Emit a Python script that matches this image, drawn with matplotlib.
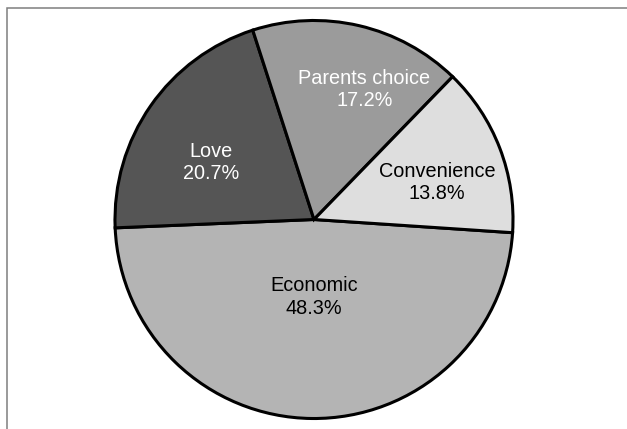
import matplotlib
matplotlib.use("Agg")
import matplotlib.pyplot as plt
from matplotlib.patches import Rectangle
import numpy as np

categories = ["Economic", "Love", "Parents choice", "Convenience"]
values = [14, 6, 5, 4]
pct_labels = ["48.3%", "20.7%", "17.2%", "13.8%"]
colors = ["#b4b4b4", "#555555", "#9b9b9b", "#dedede"]
text_colors = ["black", "white", "white", "black"]
# label placement (radius fraction, angle in degrees) - layout only
label_pos = [(0.39, -90.0), (0.59, 151.0), (0.70, 68.8), (0.645, 16.8)]

plt.rcParams['font.family'] = ['Liberation Sans', 'DejaVu Sans']

fig = plt.figure(figsize=(6.27, 4.29), dpi=100)
fig.patch.set_facecolor("white")

# outer frame (extends beyond right and bottom edges)
fig.patches.append(Rectangle((7 / 627, -0.1), 1.2, 1 - 8 / 429 + 0.1,
                             transform=fig.transFigure, fill=False,
                             edgecolor="#7f7f7f", linewidth=1.1))

ax = fig.add_axes([(314 - 201) / 627, (429 - 219.5 - 201) / 429, 402 / 627, 402 / 429])
wedges, _ = ax.pie(values, colors=colors, startangle=-3.8, counterclock=False,
                   wedgeprops=dict(edgecolor="black", linewidth=2.2))
ax.set_xlim(-1.01, 1.01)
ax.set_ylim(-1.01, 1.01)
ax.set_aspect("equal")
ax.axis("off")

for cat, pct, tc, (r, a) in zip(categories, pct_labels, text_colors, label_pos):
    x = r * np.cos(np.deg2rad(a))
    y = r * np.sin(np.deg2rad(a))
    ax.text(x, y, f"{cat}\n{pct}", ha="center", va="center", color=tc,
            fontsize=14.3, linespacing=1.25)

fig.savefig("out.png", dpi=100)
